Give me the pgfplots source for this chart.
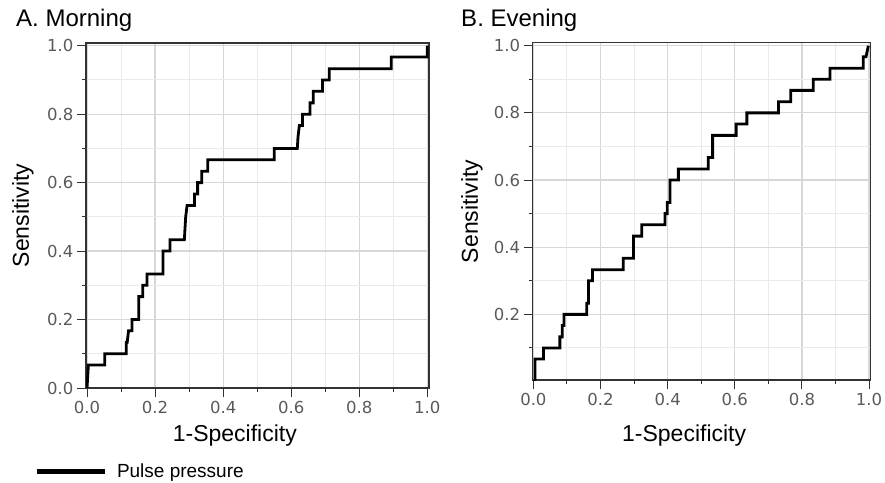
\documentclass[border=0pt]{standalone}
\usepackage{pgfplots}
\pgfplotsset{compat=1.18}
\usepackage{fontspec}
\setmainfont{Liberation Sans}
\newfontfamily\tickfont{DejaVu Sans}
\definecolor{tickgray}{RGB}{90,90,90}
\definecolor{majgrid}{RGB}{215,215,215}
\definecolor{mingrid}{RGB}{234,234,234}

\pgfplotsset{
  rocaxis/.style={
    scale only axis,
    anchor=south west,
    axis line style={black!80, line width=1.3pt},
    tick align=outside,
    xtick pos=bottom, ytick pos=left,
    major tick length=9pt, minor tick length=4pt,
    tick style={black!80, line width=1pt},
    xtick={0,0.2,0.4,0.6,0.8,1.0},
    minor xtick={0.1,0.3,0.5,0.7,0.9},
    minor ytick={0.1,0.3,0.5,0.7,0.9},
    grid=both,
    major grid style={majgrid, line width=1.2pt},
    minor grid style={mingrid, line width=1pt},
    ticklabel style={font=\tickfont\fontsize{16.5}{18}\selectfont, text=tickgray},
    xticklabel style={yshift=-1pt},
    /pgf/number format/.cd, fixed, fixed zerofill, precision=1, assume math mode=true,
    /pgfplots/.cd,
    label style={font=\fontsize{23}{27}\selectfont},
    xlabel={1-Specificity},
    ylabel={Sensitivity},
    every axis title/.style={font=\fontsize{24}{28}\selectfont, anchor=base west, inner sep=0pt},
  },
}

\begin{document}
\begin{tikzpicture}
\path[use as bounding box] (0pt,0pt) rectangle (885pt,482pt);

% A. Morning
\begin{axis}[rocaxis,
  at={(86pt,94pt)},
  width=343pt, height=345pt,
  xmin=-0.003, xmax=1.005, ymin=0, ymax=1.008,
  ytick={0,0.2,0.4,0.6,0.8,1.0},
  title={A. Morning},
  title style={at={(axis description cs:-0.204,1.047)}},
  xlabel style={at={(axis description cs:0.434,-0.139)}, anchor=center},
  ylabel style={at={(axis description cs:-0.184,0.5)}, anchor=center},
  legend style={at={(axis description cs:-0.1516,-0.2406)}, anchor=west,
    draw=none, fill=none, inner sep=0pt, outer sep=0pt,
    nodes={inner sep=0pt}, font=\fontsize{19}{22}\selectfont,
    /tikz/every odd column/.append style={column sep=10pt}},
  legend image code/.code={\draw[line width=5pt] (0pt,0pt) -- (68pt,0pt);},
]
\addplot[black, line width=2.8pt, line join=miter] coordinates {
  (0,0) (0.004,0.067) (0.052,0.067) (0.052,0.1) (0.115,0.1) (0.115,0.133)
  (0.118,0.133) (0.122,0.167) (0.132,0.167) (0.132,0.2) (0.152,0.2)
  (0.152,0.267) (0.164,0.267) (0.164,0.3) (0.176,0.3) (0.176,0.333)
  (0.223,0.333) (0.223,0.4) (0.244,0.4) (0.244,0.433) (0.286,0.433)
  (0.288,0.467) (0.290,0.5) (0.294,0.533) (0.316,0.533) (0.316,0.567)
  (0.325,0.567) (0.325,0.6) (0.337,0.6) (0.337,0.633) (0.355,0.633)
  (0.355,0.667) (0.550,0.667) (0.550,0.7) (0.618,0.7) (0.620,0.733)
  (0.624,0.767) (0.633,0.767) (0.633,0.8) (0.655,0.8) (0.655,0.833)
  (0.665,0.833) (0.665,0.867) (0.692,0.867) (0.692,0.9) (0.712,0.9)
  (0.712,0.933) (0.894,0.933) (0.894,0.967) (1.0,0.967) (1.0,1.0)
};
\addlegendentry{Pulse pressure}
\end{axis}

% B. Evening
\begin{axis}[rocaxis,
  at={(532.7pt,102pt)},
  width=338pt, height=337.3pt,
  xmin=-0.002, xmax=1.005, ymin=0.0045, ymax=1.009,
  ytick={0.2,0.4,0.6,0.8,1.0},
  title={B. Evening},
  title style={at={(axis description cs:-0.212,1.047)}},
  xlabel style={at={(axis description cs:0.448,-0.166)}, anchor=center},
  ylabel style={at={(axis description cs:-0.18,0.5)}, anchor=center},
]
\addplot[black, line width=2.8pt, line join=miter] coordinates {
  (0.005,0) (0.005,0.067) (0.030,0.067) (0.030,0.1) (0.079,0.1)
  (0.079,0.133) (0.086,0.133) (0.086,0.167) (0.091,0.167) (0.091,0.2)
  (0.159,0.2) (0.159,0.233) (0.164,0.233) (0.164,0.3) (0.176,0.3)
  (0.176,0.333) (0.268,0.333) (0.268,0.367) (0.298,0.367) (0.298,0.433)
  (0.323,0.433) (0.323,0.467) (0.392,0.467) (0.392,0.5) (0.399,0.5)
  (0.399,0.533) (0.407,0.533) (0.407,0.6) (0.432,0.6) (0.432,0.633)
  (0.521,0.633) (0.521,0.667) (0.534,0.667) (0.534,0.733) (0.604,0.733)
  (0.604,0.767) (0.636,0.767) (0.636,0.8) (0.730,0.8) (0.730,0.833)
  (0.767,0.833) (0.767,0.867) (0.834,0.867) (0.834,0.9) (0.884,0.9)
  (0.884,0.933) (0.983,0.933) (0.983,0.967) (0.991,0.967) (0.998,1.0)
};
\end{axis}
\end{tikzpicture}
\end{document}
